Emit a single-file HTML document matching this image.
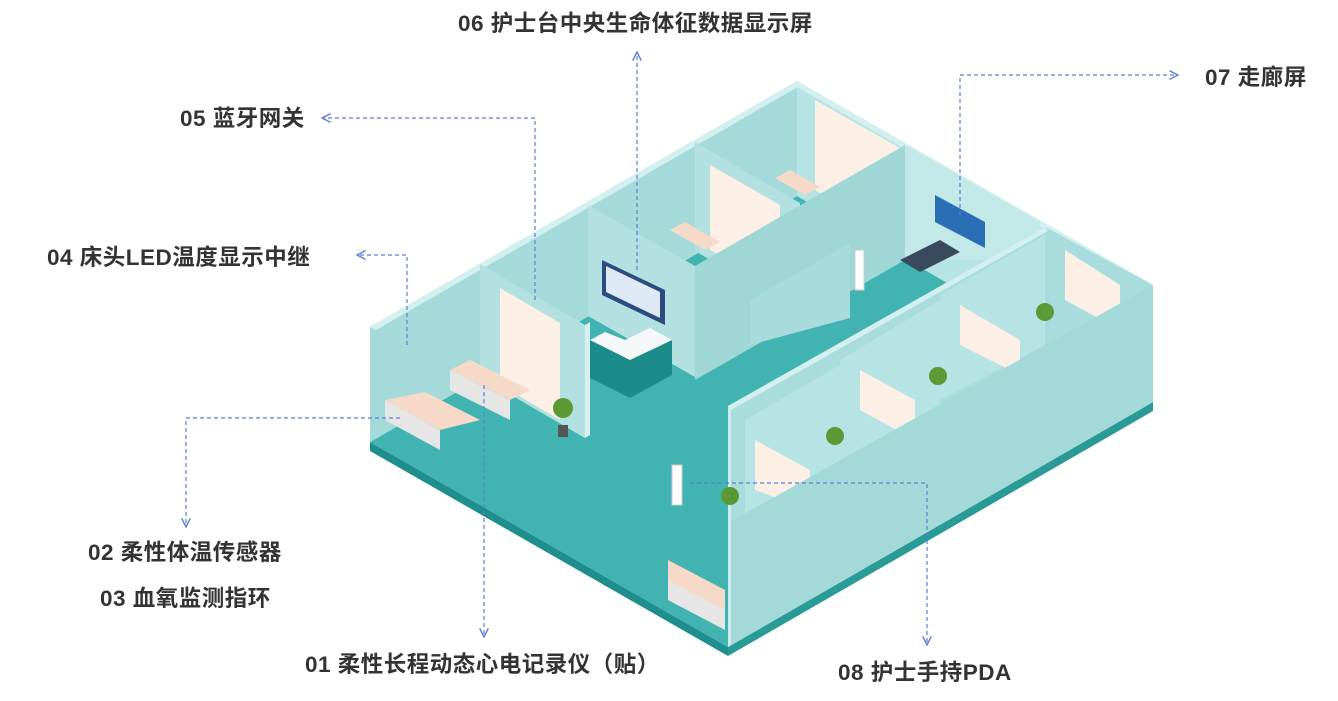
<!DOCTYPE html>
<html><head><meta charset="utf-8"><style>
html,body{margin:0;padding:0;background:#fff;width:1338px;height:701px;overflow:hidden}
svg{display:block}
text{font-family:"Liberation Sans","Noto Sans CJK SC",sans-serif;font-weight:bold;font-size:22.5px;letter-spacing:0.5px;fill:#333}
</style></head><body>
<svg width="1338" height="701" viewBox="0 0 1338 701" xmlns="http://www.w3.org/2000/svg">
<defs>
<marker id="a" viewBox="0 0 10 10" refX="9" refY="5" markerWidth="9" markerHeight="9" orient="auto-start-reverse"><path d="M1,1 L9,5 L1,9" fill="none" stroke="#5a7fd6" stroke-width="1.3"/></marker>
</defs>
<polygon points="370,442 728,647 728,656 370,451" fill="#1e8f8c"/>
<polygon points="728,647 1153,402 1153,411 728,656" fill="#2a9a97"/>
<polygon points="370,442 797,196 1153,402 728,647" fill="#41b3b1"/>
<polygon points="370,327 797,81 797,196 370,442" fill="#a5dada"/>
<polygon points="370,327 797,81 803,84 376,330" fill="#d3efef"/>
<polygon points="797,81 1153,285 1153,402 797,196" fill="#b6e3e3"/>
<polygon points="797,81 1153,285 1147,288 797,87" fill="#d3efef"/>
<polygon points="480,264 585,325 585,438 480,377" fill="#b3e1e1"/>
<polygon points="500,288 560,323 560,420 500,385" fill="#fbefe6"/>
<polygon points="585,325 590,322 590,435 585,438" fill="#d8f0f0"/>
<polygon points="588,205 695,266 695,377 588,316" fill="#b3e1e1"/>
<polygon points="695,142 800,203 800,312 695,251" fill="#b3e1e1"/>
<polygon points="710,165 780,205 780,290 710,250" fill="#fbefe6"/>
<polygon points="815,100 900,148 900,240 815,190" fill="#fbefe6"/>
<polygon points="695,266 905,145 905,260 695,380" fill="#9fd6d6"/>
<polygon points="750,300 850,243 850,318 750,345" fill="#a8dcdc"/>
<polygon points="905,145 1040,222 1040,260 905,260" fill="#c2e8e8"/>
<polygon points="602,260 665,290 665,325 602,295" fill="#2b4c7e"/>
<polygon points="606,266 660,292 660,318 606,292" fill="#dfe8f5"/>
<polygon points="935,195 985,222 985,248 935,222" fill="#2a6fb6"/>
<polygon points="590,340 630,360 672,340 672,375 630,398 590,378" fill="#1b8c8a"/>
<polygon points="590,340 630,360 672,340 650,328 625,340 605,332" fill="#f5f8f8"/>
<polygon points="900,260 940,240 960,252 920,272" fill="#3a4a5e"/>
<polygon points="728,406 1045,227 1153,285 1153,402 728,647" fill="#a9dddd"/>
<polygon points="745,420 840,365 840,470 745,520" fill="#b6e3e3"/>
<polygon points="840,360 940,300 940,410 840,465" fill="#b6e3e3"/>
<polygon points="940,295 1045,235 1045,345 940,400" fill="#b6e3e3"/>
<polygon points="755,440 810,470 810,510 755,490" fill="#fbefe6"/>
<polygon points="860,370 915,400 915,440 860,410" fill="#fbefe6"/>
<polygon points="960,305 1020,340 1020,375 960,345" fill="#fbefe6"/>
<polygon points="1065,250 1120,285 1120,330 1065,300" fill="#fbefe6"/>
<polygon points="728,523 1153,285 1153,402 728,647" fill="#a3d9d9"/>
<polygon points="728,406 1045,227 1048,231 731,410" fill="#d3efef"/>
<polygon points="728,406 731,410 731,645 728,647" fill="#c9ecec"/>
<polygon points="385,400 440,430 480,420 425,392" fill="#f6d9c7"/>
<polygon points="385,400 440,430 440,450 385,420" fill="#e6e6e6"/>
<polygon points="450,370 510,400 530,390 470,360" fill="#f6d9c7"/>
<polygon points="450,370 510,400 510,420 450,390" fill="#e6e6e6"/>
<polygon points="668,560 725,590 725,625 668,595" fill="#f6d9c7"/>
<polygon points="668,580 725,610 725,630 668,600" fill="#e6e6e6"/>
<polygon points="670,230 705,250 720,242 685,222" fill="#f6d9c7"/>
<polygon points="775,178 805,195 820,187 790,170" fill="#f6d9c7"/>
<circle cx="563" cy="408" r="10" fill="#5a9a35"/><rect x="558" y="425" width="10" height="12" fill="#555"/>
<circle cx="730" cy="496" r="9" fill="#5a9a35"/>
<circle cx="835" cy="436" r="9" fill="#5a9a35"/>
<circle cx="938" cy="376" r="9" fill="#5a9a35"/>
<circle cx="1045" cy="312" r="9" fill="#5a9a35"/>
<rect x="672" y="465" width="10" height="40" fill="#fff" stroke="#ccc"/>
<rect x="855" y="250" width="9" height="40" fill="#fff" stroke="#ccc"/>
<g fill="none" stroke="#5a7fd6" stroke-width="1.2" stroke-dasharray="4,3">
<polyline points="637,270 637,52" marker-end="url(#a)"/>
<polyline points="535,300 535,118 322,118" marker-end="url(#a)"/>
<polyline points="407,345 407,255 357,255" marker-end="url(#a)"/>
<polyline points="960,215 960,75 1178,75" marker-end="url(#a)"/>
<polyline points="400,418 186,418 186,527" marker-end="url(#a)"/>
<polyline points="484,385 484,637" marker-end="url(#a)"/>
<polyline points="690,483 927,483 927,645" marker-end="url(#a)"/>
</g>
<text x="458" y="31">06 护士台中央生命体征数据显示屏</text>
<text x="180" y="126">05 蓝牙网关</text>
<text x="47" y="265">04 床头LED温度显示中继</text>
<text x="1205" y="85">07 走廊屏</text>
<text x="88" y="560">02 柔性体温传感器</text>
<text x="100" y="606">03 血氧监测指环</text>
<text x="305" y="672">01 柔性长程动态心电记录仪（贴）</text>
<text x="838" y="680">08 护士手持PDA</text>
</svg>
</body></html>
